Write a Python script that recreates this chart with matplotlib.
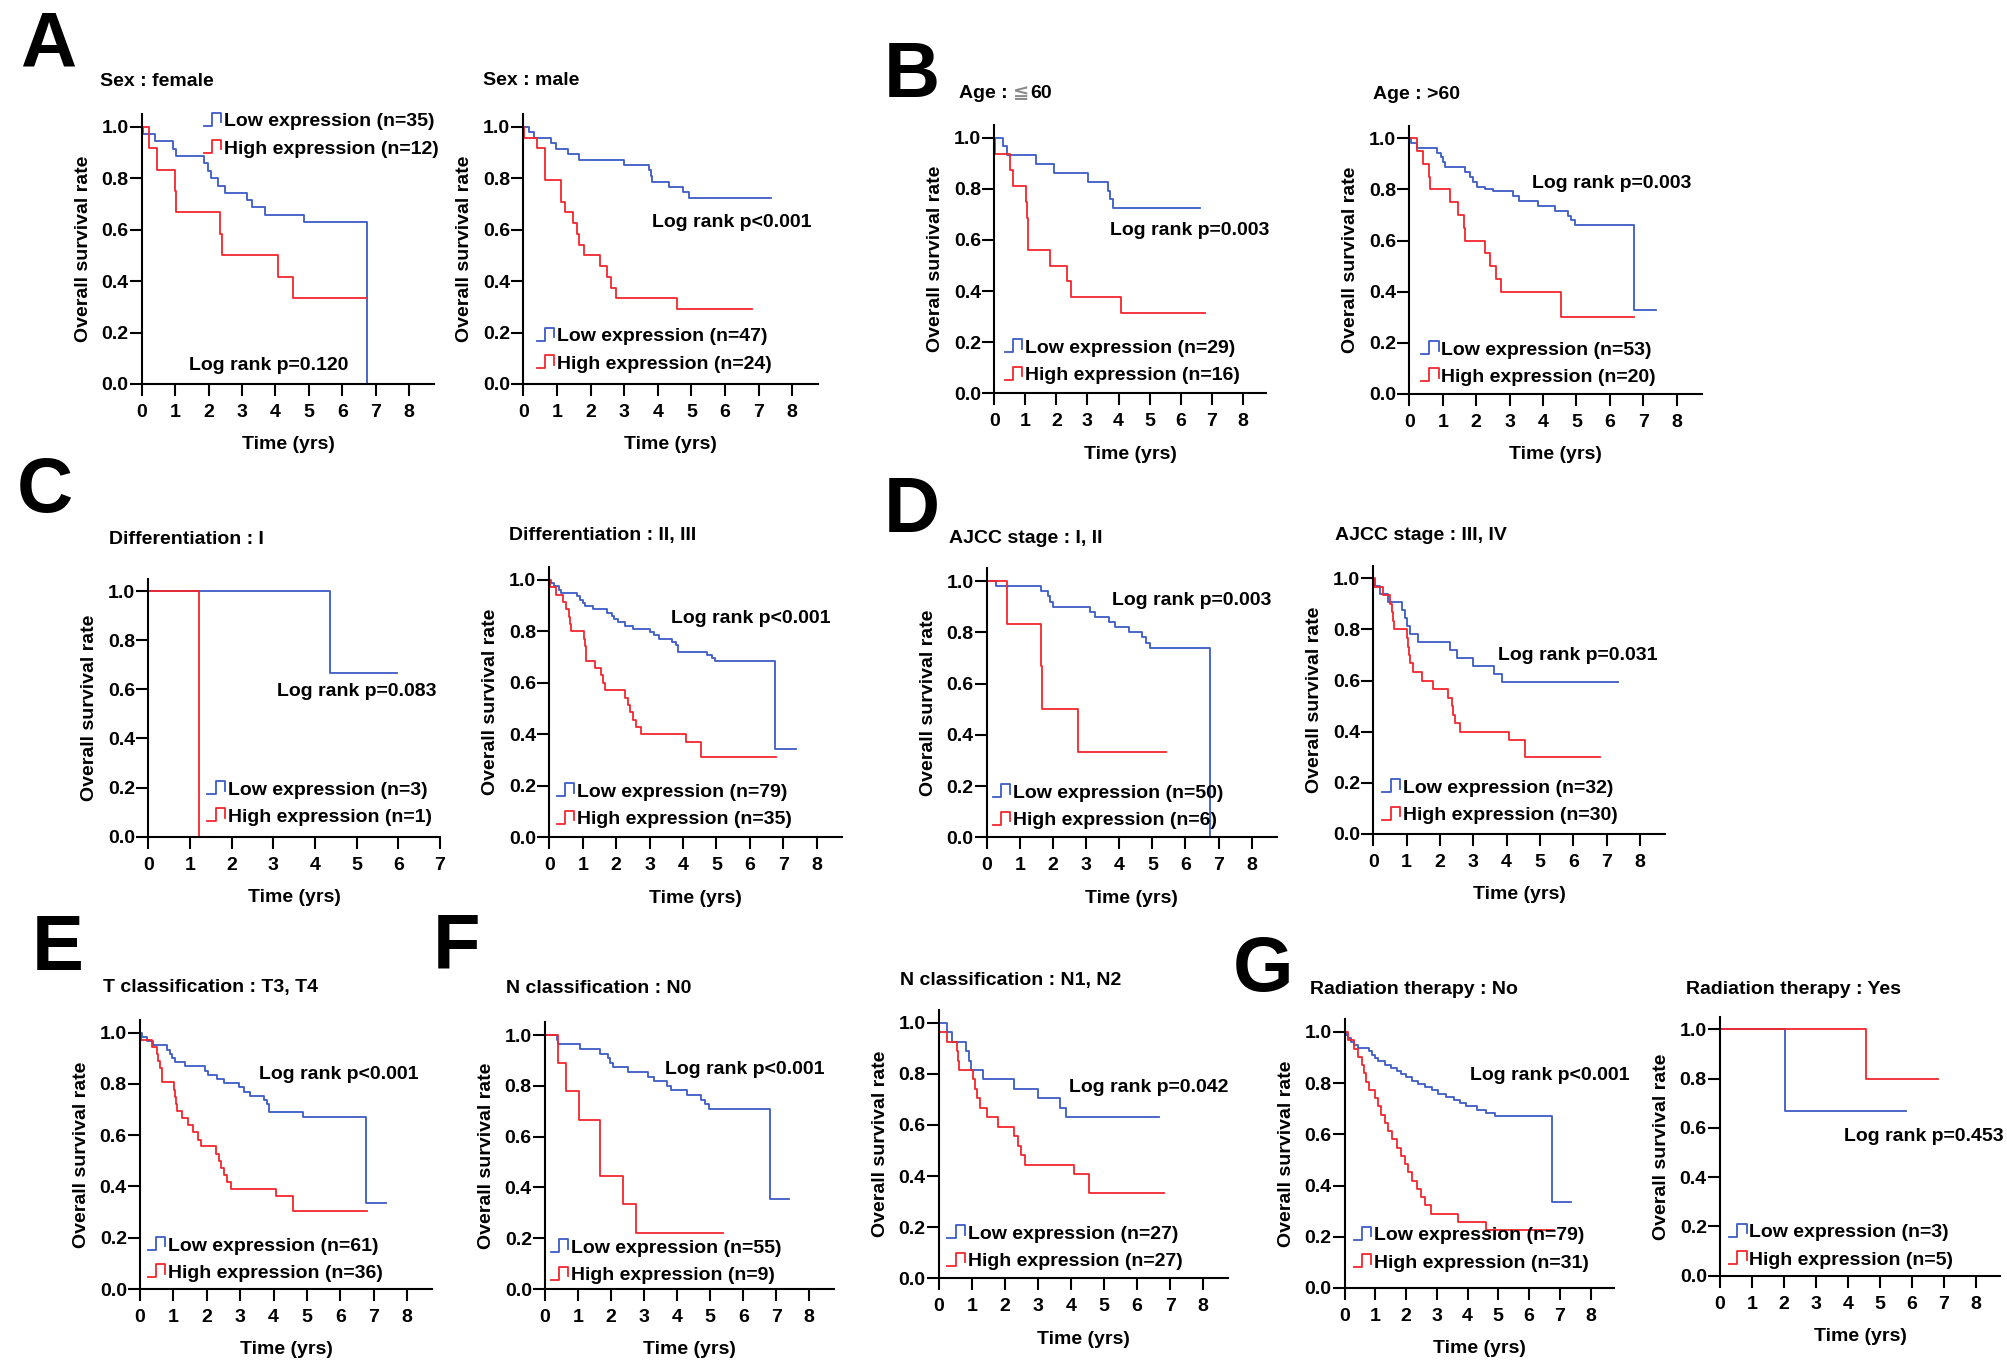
import numpy as np
import matplotlib
matplotlib.use('Agg')
import matplotlib.pyplot as plt
from matplotlib.lines import Line2D
from matplotlib.legend_handler import HandlerBase
from matplotlib.transforms import offset_copy, Bbox, TransformedBbox

plt.rcParams['font.family'] = ['Liberation Sans', 'DejaVu Sans']
plt.rcParams['font.weight'] = 'bold'
plt.rcParams['axes.labelweight'] = 'bold'

W, H = 2008, 1363
BLUE = '#3b5cc6'
RED = '#f2262d'

# ---------------- data: (time of step, survival from that time); last point = end of follow-up
fem_low_t = [0.03, 0.4, 0.93, 1.03, 1.87, 1.97, 2.07, 2.29, 2.49, 3.14, 3.29, 3.69, 4.85, 6.74, 6.74]
fem_low_s = [0.971, 0.943, 0.914, 0.886, 0.857, 0.829, 0.80, 0.771, 0.743, 0.714, 0.686, 0.657, 0.629, 0.0, 0.0]
fem_high_t = [0.22, 0.47, 1.01, 1.03, 2.34, 2.39, 4.06, 4.53, 6.72]
fem_high_s = [0.917, 0.833, 0.75, 0.667, 0.583, 0.5, 0.417, 0.333, 0.333]

male_low_t = [0.18, 0.33, 0.82, 0.97, 1.32, 1.66, 3.0, 3.74, 3.80, 3.84, 4.34, 4.74, 4.94, 7.36]
male_low_s = [0.979, 0.957, 0.936, 0.915, 0.894, 0.872, 0.851, 0.830, 0.809, 0.787, 0.766, 0.745, 0.723, 0.723]
male_high_t = [0.01, 0.42, 0.64, 0.65, 0.66, 1.11, 1.12, 1.24, 1.47, 1.59, 1.66, 1.80, 2.28, 2.48, 2.60, 2.75, 4.56, 6.79]
male_high_s = [0.958, 0.917, 0.875, 0.833, 0.792, 0.75, 0.708, 0.667, 0.625, 0.583, 0.542, 0.5, 0.458, 0.417, 0.375, 0.333, 0.292, 0.292]

agele_low_t = [0.29, 0.40, 1.33, 1.92, 3.01, 3.67, 3.73, 3.83, 6.63]
agele_low_s = [0.966, 0.931, 0.897, 0.862, 0.828, 0.793, 0.759, 0.724, 0.724]
agele_high_t = [0.02, 0.50, 0.61, 1.01, 1.05, 1.08, 1.10, 1.79, 2.33, 2.46, 4.07, 6.79]
agele_high_s = [0.9375, 0.875, 0.8125, 0.75, 0.6875, 0.625, 0.5625, 0.5, 0.4375, 0.375, 0.3125, 0.3125]

agegt_low_t = [0.04, 0.24, 0.84, 0.94, 1.0, 1.07, 1.67, 1.82, 1.9, 2.02, 2.27, 2.5, 3.11, 3.28, 3.86, 4.36, 4.74, 4.83, 4.97, 6.73, 7.37]
agegt_low_s = [0.981, 0.962, 0.943, 0.925, 0.906, 0.887, 0.868, 0.849, 0.830, 0.811, 0.80, 0.792, 0.774, 0.755, 0.736, 0.717, 0.698, 0.679, 0.660, 0.33, 0.33]
agegt_high_t = [0.24, 0.40, 0.60, 0.61, 1.22, 1.45, 1.65, 1.66, 2.26, 2.41, 2.58, 2.74, 4.54, 6.73]
agegt_high_s = [0.95, 0.90, 0.85, 0.80, 0.75, 0.70, 0.65, 0.60, 0.55, 0.50, 0.45, 0.40, 0.30, 0.30]

difI_low_t = [4.36, 5.98]
difI_low_s = [0.667, 0.667]
difI_high_t = [1.22, 1.22]
difI_high_s = [0.0, 0.0]

difII_low_t = [0.05, 0.15, 0.28, 0.35, 0.84, 0.92, 1.0, 1.07, 1.32, 1.72, 1.87, 1.95, 2.05, 2.26, 2.51, 3.0, 3.12, 3.28, 3.66, 3.8, 3.86, 4.71, 4.86, 4.96, 6.75, 7.37]
difII_low_s = [0.987, 0.975, 0.962, 0.949, 0.937, 0.924, 0.911, 0.899, 0.886, 0.873, 0.861, 0.848, 0.835, 0.823, 0.81, 0.797, 0.785, 0.772, 0.759, 0.747, 0.722, 0.709, 0.696, 0.684, 0.342, 0.342]
difII_high_t = [0.02, 0.2, 0.4, 0.5, 0.58, 0.62, 0.65, 1.03, 1.08, 1.1, 1.38, 1.55, 1.62, 1.67, 2.25, 2.34, 2.42, 2.5, 2.6, 2.75, 4.08, 4.55, 6.79]
difII_high_s = [0.971, 0.943, 0.914, 0.886, 0.857, 0.829, 0.80, 0.771, 0.743, 0.686, 0.657, 0.629, 0.60, 0.571, 0.543, 0.514, 0.486, 0.457, 0.429, 0.40, 0.371, 0.314, 0.314]

ajI_low_t = [0.28, 1.65, 1.85, 1.92, 2.0, 3.12, 3.28, 3.7, 3.87, 4.3, 4.7, 4.82, 4.92, 6.75, 6.75]
ajI_low_s = [0.98, 0.96, 0.94, 0.92, 0.90, 0.88, 0.86, 0.84, 0.82, 0.80, 0.78, 0.76, 0.74, 0.0, 0.0]
ajI_high_t = [0.62, 1.63, 1.67, 2.75, 5.4]
ajI_high_s = [0.833, 0.667, 0.5, 0.333, 0.333]

ajIII_low_t = [0.05, 0.2, 0.45, 0.85, 0.95, 1.0, 1.1, 1.35, 2.3, 2.5, 3.0, 3.62, 3.85, 7.35]
ajIII_low_s = [0.969, 0.938, 0.906, 0.875, 0.844, 0.813, 0.781, 0.75, 0.719, 0.688, 0.656, 0.625, 0.594, 0.594]
ajIII_high_t = [0.02, 0.3, 0.5, 0.55, 0.6, 0.62, 1.02, 1.05, 1.08, 1.1, 1.2, 1.45, 1.8, 2.25, 2.35, 2.4, 2.45, 2.6, 4.08, 4.55, 6.8]
ajIII_high_s = [0.967, 0.933, 0.90, 0.867, 0.833, 0.80, 0.767, 0.733, 0.70, 0.667, 0.633, 0.60, 0.567, 0.533, 0.50, 0.467, 0.433, 0.40, 0.367, 0.30, 0.30]

t34_low_t = [0.05, 0.2, 0.4, 0.8, 0.9, 0.97, 1.05, 1.35, 1.95, 2.05, 2.3, 2.5, 2.95, 3.1, 3.3, 3.7, 3.8, 3.85, 4.88, 6.77, 7.37]
t34_low_s = [0.984, 0.967, 0.951, 0.934, 0.918, 0.902, 0.885, 0.869, 0.852, 0.836, 0.820, 0.803, 0.787, 0.770, 0.754, 0.738, 0.721, 0.689, 0.672, 0.336, 0.336]
t34_high_t = [0.02, 0.35, 0.5, 0.55, 0.6, 0.65, 1.02, 1.05, 1.08, 1.12, 1.25, 1.45, 1.6, 1.75, 1.83, 2.28, 2.35, 2.42, 2.5, 2.6, 2.72, 4.08, 4.57, 6.8]
t34_high_s = [0.972, 0.944, 0.917, 0.889, 0.861, 0.806, 0.778, 0.75, 0.722, 0.694, 0.667, 0.639, 0.611, 0.583, 0.556, 0.528, 0.50, 0.472, 0.444, 0.417, 0.389, 0.361, 0.306, 0.306]

n0_low_t = [0.35, 0.38, 1.05, 1.65, 1.9, 1.98, 2.05, 2.5, 3.12, 3.3, 3.7, 3.8, 4.3, 4.72, 4.85, 4.95, 6.8, 7.4]
n0_low_s = [0.982, 0.964, 0.945, 0.927, 0.909, 0.891, 0.873, 0.855, 0.836, 0.818, 0.80, 0.782, 0.764, 0.745, 0.727, 0.709, 0.355, 0.355]
n0_high_t = [0.4, 0.63, 1.03, 1.65, 1.67, 2.35, 2.75, 5.4]
n0_high_s = [0.889, 0.778, 0.667, 0.556, 0.444, 0.333, 0.222, 0.222]

n12_low_t = [0.25, 0.4, 0.82, 0.92, 0.97, 1.35, 2.28, 3.0, 3.67, 3.85, 6.65]
n12_low_s = [0.963, 0.926, 0.889, 0.852, 0.815, 0.778, 0.741, 0.704, 0.667, 0.630, 0.630]
n12_high_t = [0.02, 0.25, 0.55, 0.58, 0.6, 1.05, 1.1, 1.15, 1.25, 1.45, 1.8, 2.28, 2.4, 2.5, 2.6, 4.08, 4.55, 6.8]
n12_high_s = [0.963, 0.926, 0.889, 0.852, 0.815, 0.778, 0.741, 0.704, 0.667, 0.630, 0.593, 0.556, 0.519, 0.481, 0.444, 0.407, 0.333, 0.333]

rtno_low_t = [0.05, 0.12, 0.2, 0.3, 0.45, 0.8, 0.9, 1.0, 1.1, 1.3, 1.5, 1.7, 1.85, 2.0, 2.2, 2.4, 2.6, 2.85, 3.05, 3.3, 3.55, 3.75, 3.95, 4.3, 4.6, 4.9, 6.75, 7.37]
rtno_low_s = [0.987, 0.975, 0.962, 0.949, 0.937, 0.924, 0.911, 0.899, 0.886, 0.873, 0.861, 0.848, 0.835, 0.823, 0.810, 0.797, 0.785, 0.772, 0.759, 0.747, 0.734, 0.722, 0.709, 0.696, 0.684, 0.671, 0.336, 0.336]
rtno_high_t = [0.1, 0.3, 0.45, 0.55, 0.62, 0.7, 0.8, 0.98, 1.1, 1.2, 1.3, 1.42, 1.55, 1.7, 1.82, 1.95, 2.05, 2.2, 2.35, 2.48, 2.62, 2.8, 3.7, 4.6, 6.8]
rtno_high_s = [0.968, 0.935, 0.903, 0.871, 0.839, 0.806, 0.774, 0.742, 0.71, 0.677, 0.645, 0.613, 0.581, 0.548, 0.516, 0.484, 0.452, 0.419, 0.387, 0.355, 0.323, 0.29, 0.258, 0.226, 0.226]

rtyes_low_t = [2.03, 5.8]
rtyes_low_s = [0.667, 0.667]
rtyes_high_t = [4.55, 6.8]
rtyes_high_s = [0.8, 0.8]

low_series = [(fem_low_t, fem_low_s), (male_low_t, male_low_s), (agele_low_t, agele_low_s),
              (agegt_low_t, agegt_low_s), (difI_low_t, difI_low_s), (difII_low_t, difII_low_s),
              (ajI_low_t, ajI_low_s), (ajIII_low_t, ajIII_low_s), (t34_low_t, t34_low_s),
              (n0_low_t, n0_low_s), (n12_low_t, n12_low_s), (rtno_low_t, rtno_low_s),
              (rtyes_low_t, rtyes_low_s)]
high_series = [(fem_high_t, fem_high_s), (male_high_t, male_high_s), (agele_high_t, agele_high_s),
               (agegt_high_t, agegt_high_s), (difI_high_t, difI_high_s), (difII_high_t, difII_high_s),
               (ajI_high_t, ajI_high_s), (ajIII_high_t, ajIII_high_s), (t34_high_t, t34_high_s),
               (n0_high_t, n0_high_s), (n12_high_t, n12_high_s), (rtno_high_t, rtno_high_s),
               (rtyes_high_t, rtyes_high_s)]

titles = ['Sex : female', 'Sex : male', 'Age : \u226660', 'Age : >60', 'Differentiation : I',
          'Differentiation : II, III', 'AJCC stage : I, II', 'AJCC stage : III, IV',
          'T classification : T3, T4', 'N classification : N0', 'N classification : N1, N2',
          'Radiation therapy : No', 'Radiation therapy : Yes']
n_low = [35, 47, 29, 53, 3, 79, 50, 32, 61, 55, 27, 79, 3]
n_high = [12, 24, 16, 20, 1, 35, 6, 30, 36, 9, 27, 31, 5]
p_text = ['p=0.120', 'p<0.001', 'p=0.003', 'p=0.003', 'p=0.083', 'p<0.001', 'p=0.003',
          'p=0.031', 'p<0.001', 'p<0.001', 'p=0.042', 'p<0.001', 'p=0.453']
last_tick = [8, 8, 8, 8, 7, 8, 8, 8, 8, 8, 8, 8, 8]
y_ticks = [0.0, 0.2, 0.4, 0.6, 0.8, 1.0]
panel_letters = ['A', 'B', 'C', 'D', 'E', 'F', 'G']

# ---------------- layout (pixels): x of t=0, x of last tick, y of 0.0, y of 1.0
geom = [(141.7, 409.3, 384.0, 126.7), (523.3, 792.3, 384.0, 126.7),
        (994.3, 1242.7, 393.3, 137.7), (1409.3, 1676.7, 394.0, 138.3),
        (148.3, 440.0, 836.7, 591.0), (549.3, 816.7, 837.3, 580.0),
        (986.7, 1251.7, 837.3, 581.0), (1373.3, 1640.0, 834.0, 578.3),
        (140.0, 407.3, 1289.0, 1032.7), (545.0, 809.3, 1289.0, 1035.0),
        (938.7, 1203.3, 1278.3, 1022.7), (1344.6, 1590.5, 1288.0, 1032.0),
        (1720.0, 1976.0, 1275.7, 1029.3)]
title_pos = [(100, 81), (483, 80.7), (959, 94), (1373, 94.3), (109, 540), (509.3, 535.7),
             (949.3, 538.3), (1335, 535), (103.3, 987.7), (506, 988.3), (900, 980),
             (1310, 990), (1686, 989.3)]
leg_pos = [(1.86, 1.02), (0.40, 0.184), (0.34, 0.176), (0.35, 0.172), (1.42, 0.19),
           (0.22, 0.175), (0.18, 0.172), (0.27, 0.179), (0.23, 0.168), (0.17, 0.16),
           (0.26, 0.172), (0.29, 0.204), (0.28, 0.175)]
lr_pos = [(1.42, 0.071), (3.84, 0.627), (3.73, 0.636), (3.68, 0.824), (3.08, 0.59),
          (3.64, 0.851), (3.78, 0.923), (3.75, 0.70), (3.56, 0.835), (3.64, 0.866),
          (3.93, 0.746), (4.08, 0.829), (3.88, 0.564)]
lr_clip = [None, None, None, None, 0.556, None, None, None, None, None, None, None, None]
letter_pos = [(20, 67), (884, 97), (17, 512), (884, 532), (32, 970), (433, 968), (1233, 991)]

FS = 14


class StepHandle(HandlerBase):
    def create_artists(self, legend, orig_handle, xdescent, ydescent, width, height, fontsize, trans):
        xs = np.array([0.0, 0.45, 0.45, 0.95, 0.95]) * width - xdescent
        ys = np.array([0.05, 0.05, 1.0, 1.0, 0.3]) * height - ydescent
        ln = Line2D(xs, ys, color=orig_handle.get_color(), lw=1.3, transform=trans)
        return [ln]


fig = plt.figure(figsize=(W / 100, H / 100), dpi=100)
renderer = fig.canvas.get_renderer()


def draw_title(x, y, s):
    # the "≦" sign is printed in grey in the source figure
    if '\u2266' in s:
        a, b = s.split('\u2266')
        pieces = [(a.rstrip(), 'black'), ('\u2266', '#8a8a8a'), (b, 'black')]
        gaps = [5, 1, 0]
    else:
        pieces = [(s, 'black')]
        gaps = [0]
    cx = x
    for (txt, col), g in zip(pieces, gaps):
        t = fig.text(cx / W, 1 - y / H, txt, ha='left', va='center', fontsize=FS,
                     fontweight='bold', color=col)
        bb = t.get_window_extent(renderer)
        cx = bb.x1 + g


for i in range(len(titles)):
    x0, xr, yb, y1 = geom[i]
    xmax = 8.75 if last_tick[i] == 8 else 7.0
    ux = (xr - x0) / last_tick[i]
    uy = yb - y1
    wpx = ux * xmax
    hpx = uy * 1.05
    ax = fig.add_axes([x0 / W, 1 - yb / H, wpx / W, hpx / H])
    ax.set_xlim(0, xmax)
    ax.set_ylim(0, 1.05)
    for sp in ['top', 'right']:
        ax.spines[sp].set_visible(False)
    for sp in ['left', 'bottom']:
        ax.spines[sp].set_linewidth(1.5)
    ax.set_xticks(list(range(0, last_tick[i] + 1)))
    ax.set_yticks(y_ticks)
    ax.set_yticklabels(['%.1f' % v for v in y_ticks])
    ax.tick_params(axis='both', direction='out', length=8.5, width=1.5, labelsize=FS)
    ax.tick_params(axis='y', pad=1)
    ax.tick_params(axis='x', pad=6)
    ax.set_xlabel('Time (yrs)', fontsize=FS, labelpad=11)
    ax.set_ylabel('Overall survival rate', fontsize=FS, labelpad=7)

    for (t, s), c in ((low_series[i], BLUE), (high_series[i], RED)):
        ax.step([0.0] + list(t), [1.0] + list(s), where='post', color=c, lw=1.3, clip_on=False)

    handles = [Line2D([], [], color=BLUE), Line2D([], [], color=RED)]
    labels = ['Low expression (n=%d)' % n_low[i], 'High expression (n=%d)' % n_high[i]]
    trans = offset_copy(ax.transData, fig=fig, x=0, y=-13.5, units='dots')
    ax.legend(handles, labels, handler_map={Line2D: StepHandle()}, loc='center left',
              bbox_to_anchor=leg_pos[i], bbox_transform=trans, frameon=False,
              borderpad=0, borderaxespad=0, handlelength=0.95, handletextpad=0.1,
              labelspacing=0.5, prop={'size': FS, 'weight': 'bold'})
    lt = ax.text(lr_pos[i][0], lr_pos[i][1], 'Log rank ' + p_text[i], ha='left', va='center',
                 fontsize=FS, fontweight='bold')
    if lr_clip[i] is not None:
        lt.set_clip_on(True)
        lt.set_clip_box(TransformedBbox(Bbox([[-1.0, lr_clip[i]], [20.0, 3.0]]), ax.transData))
    draw_title(title_pos[i][0], title_pos[i][1], titles[i])

for L, (lx, ly) in zip(panel_letters, letter_pos):
    fig.text(lx / W, 1 - ly / H, L, ha='left', va='baseline', fontsize=56, fontweight='bold')

fig.savefig('out.png', dpi=100)
